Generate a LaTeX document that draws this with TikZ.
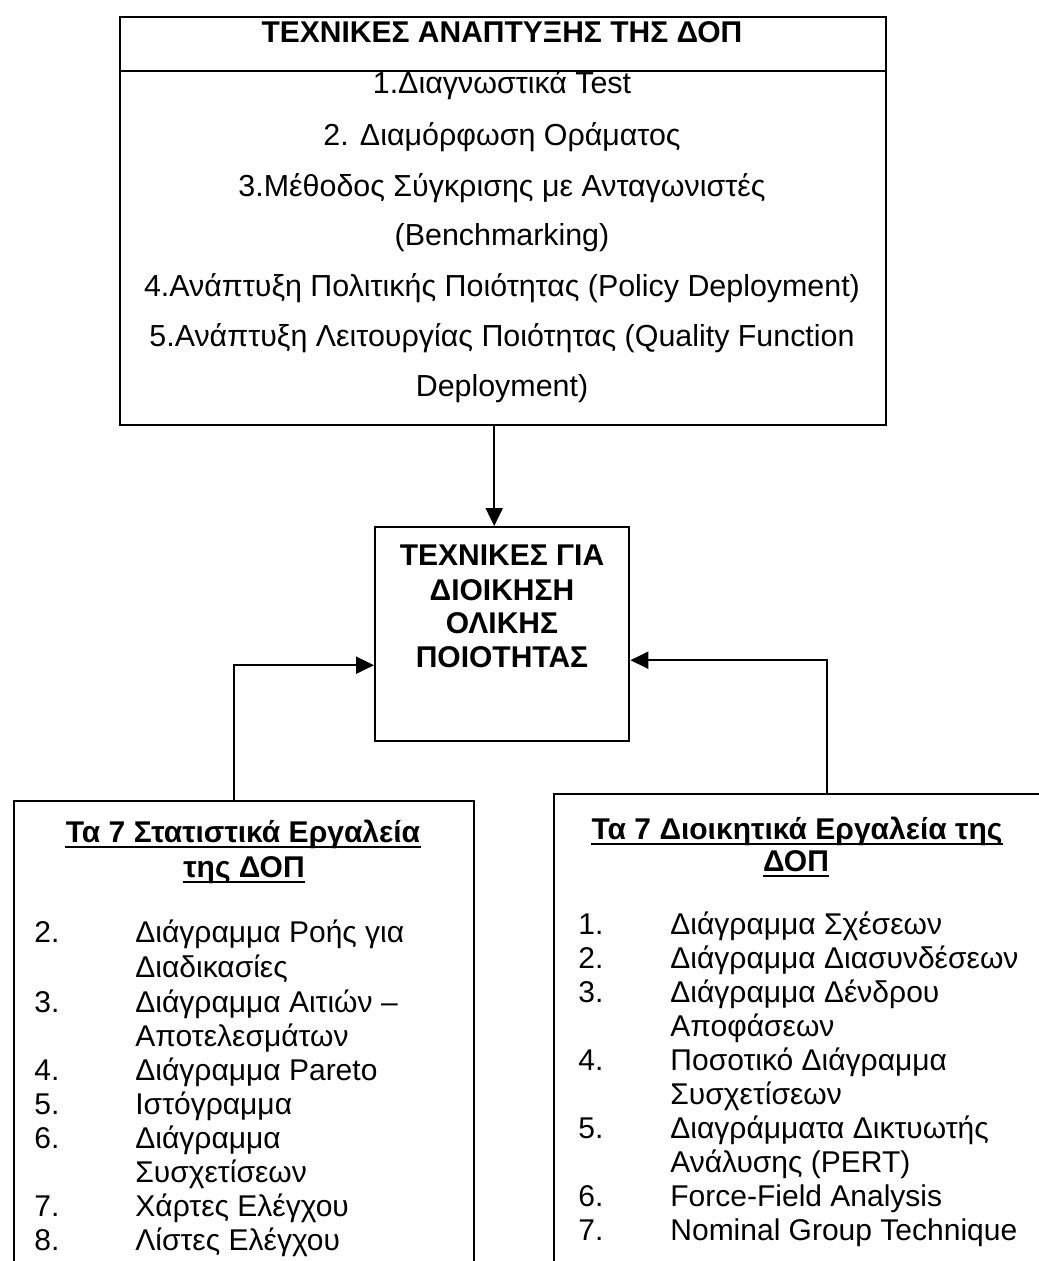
\documentclass[tikz,border=0pt]{standalone}
\usepackage{fontspec}
\setmainfont{Liberation Sans}
\usetikzlibrary{arrows.meta}
\begin{document}
\begin{tikzpicture}[x=0.5pt,y=-0.5pt,
  box/.style={draw, line width=1.2pt, inner sep=0pt, anchor=north west},
  arr/.style={line width=1pt, -{Triangle[length=9pt,width=8.5pt]}},
  headtxt/.style={inner sep=0pt, anchor=base, font=\bfseries\fontsize{15}{18}\selectfont},
  listline/.style={inner sep=0pt, anchor=base, font=\fontsize{15.2}{18}\selectfont},
  midtxt/.style={inner sep=0pt, anchor=base, font=\bfseries\fontsize{15}{18}\selectfont},
  ttl/.style={inner sep=0pt, anchor=base, font=\bfseries\fontsize{15}{18}\selectfont},
  uline/.style={line width=1.2pt},
  itm/.style={inner sep=0pt, anchor=base west, font=\fontsize{15}{18}\selectfont}]

\useasboundingbox (0,0) rectangle (1038,1261);

% boxes
\node[box, minimum width=383pt, minimum height=27pt] (head) at (119,16) {};
\node[box, minimum width=383pt, minimum height=177pt] (list) at (119,70) {};
\node[box, minimum width=127pt, minimum height=107pt] (mid) at (374,526) {};
\node[box, minimum width=230pt, minimum height=250pt] (lbox) at (13,800) {};
\node[box, minimum width=248.5pt, minimum height=253pt] (rbox) at (553,793) {};

% top box
\node[headtxt] (headt) at (502,43) {ΤΕΧΝΙΚΕΣ ΑΝΑΠΤΥΞΗΣ ΤΗΣ ΔΟΠ};
\foreach \yy/\tt [count=\i] in {
  94/{1.Διαγνωστικά Test},
  146/{2. Διαμόρφωση Οράματος},
  197/{3.Μέθοδος Σύγκρισης με Ανταγωνιστές},
  246/{(Benchmarking)},
  297/{4.Ανάπτυξη Πολιτικής Ποιότητας (Policy Deployment)},
  347/{5.Ανάπτυξη Λειτουργίας Ποιότητας (Quality Function},
  397/{Deployment)}}
  \node[listline] (tl\i) at (502,\yy) {\tt};

% centre box
\foreach \yy/\tt [count=\i] in {
  565/{ΤΕΧΝΙΚΕΣ ΓΙΑ},
  600/{ΔΙΟΙΚΗΣΗ},
  633/{ΟΛΙΚΗΣ},
  667/{ΠΟΙΟΤΗΤΑΣ}}
  \node[midtxt] (ml\i) at (502,\yy) {\tt};

% left box
\node[ttl] (lt1) at (243,842) {Τα 7 Στατιστικά Εργαλεία};
\node[ttl] (lt2) at (244,877) {της ΔΟΠ};
\foreach \n in {lt1,lt2}
  \draw[uline] ([yshift=-2.5pt]\n.base west) -- ([yshift=-2.5pt]\n.base east);
\foreach \yy/\nn/\tt [count=\i] in {
  942/{2.}/{Διάγραμμα Ροής για},
  977/{}/{Διαδικασίες},
  1012/{3.}/{Διάγραμμα Αιτιών –},
  1046/{}/{Αποτελεσμάτων},
  1080/{4.}/{Διάγραμμα Pareto},
  1114/{5.}/{Ιστόγραμμα},
  1148/{6.}/{Διάγραμμα},
  1182/{}/{Συσχετίσεων},
  1216/{7.}/{Χάρτες Ελέγχου},
  1250/{8.}/{Λίστες Ελέγχου}}
  {\node[itm] (ln\i) at (34,\yy) {\nn};
   \node[itm] (lx\i) at (135,\yy) {\tt};}

% right box
\node[ttl] (rt1) at (797,839) {Τα 7 Διοικητικά Εργαλεία της};
\node[ttl] (rt2) at (796,871) {ΔΟΠ};
\foreach \n in {rt1,rt2}
  \draw[uline] ([yshift=-2.5pt]\n.base west) -- ([yshift=-2.5pt]\n.base east);
\foreach \yy/\nn/\tt [count=\i] in {
  934/{1.}/{Διάγραμμα Σχέσεων},
  968/{2.}/{Διάγραμμα Διασυνδέσεων},
  1002/{3.}/{Διάγραμμα Δένδρου},
  1036/{}/{Αποφάσεων},
  1070/{4.}/{Ποσοτικό Διάγραμμα},
  1104/{}/{Συσχετίσεων},
  1138/{5.}/{Διαγράμματα Δικτυωτής},
  1172/{}/{Ανάλυσης (PERT)},
  1206/{6.}/{Force-Field Analysis},
  1240/{7.}/{Nominal Group Technique}}
  {\node[itm] (rn\i) at (578,\yy) {\nn};
   \node[itm] (rx\i) at (670,\yy) {\tt};}

% connectors
\draw[arr] ([xshift=-4.5pt]list.south) -- ([xshift=-4pt]mid.north);
\draw[arr] ([xshift=-5pt]lbox.north) |- ([yshift=-15.5pt]mid.west);
\draw[arr] ([xshift=12pt]rbox.north) |- ([yshift=-13pt]mid.east);

\end{tikzpicture}
\end{document}
